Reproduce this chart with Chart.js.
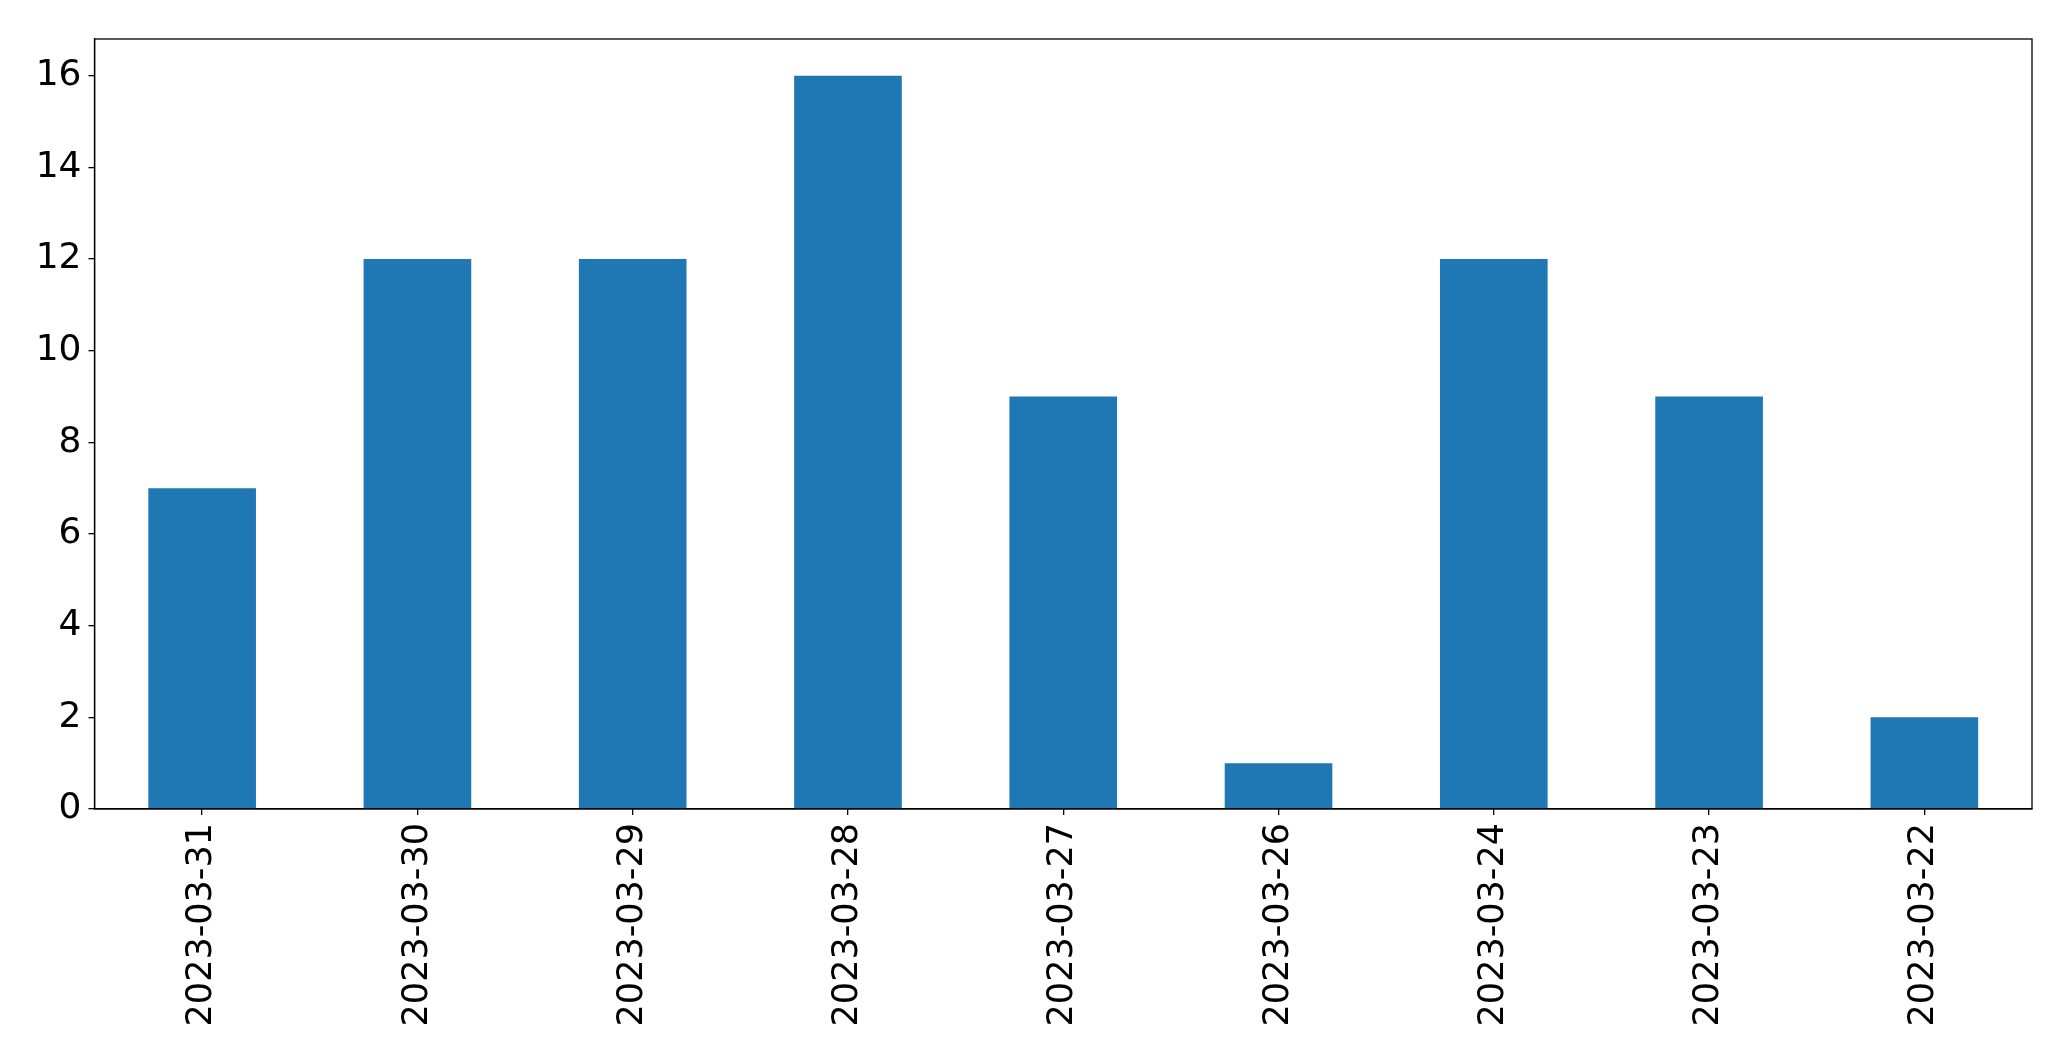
<!DOCTYPE html>
<html>
<head>
<meta charset="utf-8">
<script src="https://cdn.jsdelivr.net/npm/chart.js@4"></script>
<style>
html,body{margin:0;padding:0;background:#fff;}
canvas{display:block;}
</style>
</head>
<body>
<canvas id="c" width="2071" height="1061"></canvas>
<script>
const categories = ["2023-03-31","2023-03-30","2023-03-29","2023-03-28","2023-03-27","2023-03-26","2023-03-24","2023-03-23","2023-03-22"];
const counts = [7,12,12,16,9,1,12,9,2];
const yTicks = [0,2,4,6,8,10,12,14,16];

const frame = {
  id: 'frame',
  afterDraw(chart) {
    const {ctx, chartArea: a} = chart;
    ctx.save();
    ctx.strokeStyle = '#000';
    ctx.lineWidth = 1.3;
    ctx.strokeRect(a.left, a.top, a.right - a.left, a.bottom - a.top);
    ctx.restore();
  }
};

new Chart(document.getElementById('c'), {
  type: 'bar',
  data: {
    labels: categories,
    datasets: [{
      data: counts,
      backgroundColor: '#1f77b4',
      borderWidth: 0,
      categoryPercentage: 1.0,
      barPercentage: 0.5
    }]
  },
  options: {
    responsive: false,
    animation: false,
    devicePixelRatio: 1,
    layout: { padding: { top: 39, right: 39, left: 0, bottom: 0 } },
    plugins: { legend: { display: false }, tooltip: { enabled: false } },
    scales: {
      x: {
        offset: true,
        grid: { offset: false, drawOnChartArea: false, drawTicks: true, tickLength: 6, color: '#000', lineWidth: 1.3 },
        border: { color: '#000', width: 1.3 },
        ticks: {
          color: '#000',
          font: { family: 'DejaVu Sans', size: 35 },
          minRotation: 90, maxRotation: 90,
          padding: 8,
          autoSkip: false
        },
        afterFit(s) { s.height = 1061 - 809; }
      },
      y: {
        min: 0, max: 16.8,
        afterBuildTicks(s) { s.ticks = yTicks.map(v => ({ value: v })); },
        grid: { drawOnChartArea: false, drawTicks: true, tickLength: 6, color: '#000', lineWidth: 1.3 },
        border: { color: '#000', width: 1.3 },
        ticks: {
          color: '#000',
          font: { family: 'DejaVu Sans', size: 36 },
          padding: 7
        },
        afterFit(s) { s.width = 94.5; }
      }
    }
  },
  plugins: [frame]
});
</script>
</body>
</html>
